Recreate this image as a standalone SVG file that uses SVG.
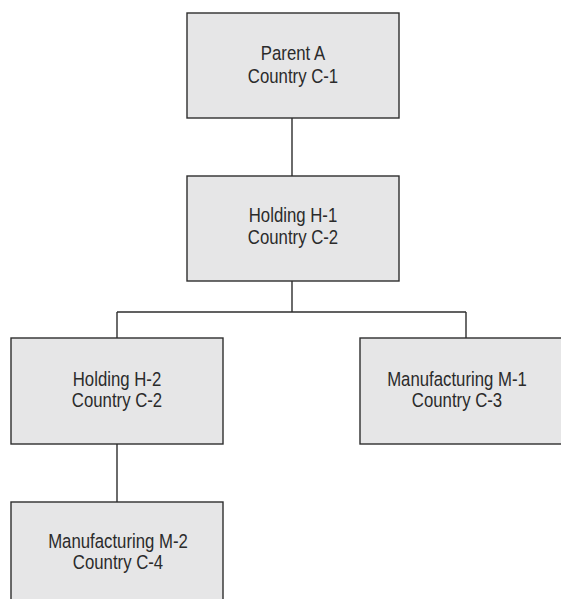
<svg xmlns="http://www.w3.org/2000/svg" width="561" height="599" viewBox="0 0 561 599">
<style>
.box{fill:#e6e6e7;stroke:#2e2e2e;stroke-width:1.4}
.con{fill:none;stroke:#2e2e2e;stroke-width:1.4}
text{font-family:"Liberation Sans",Arial,sans-serif;font-size:19.5px;fill:#2b2b2b;text-anchor:middle}
</style>
<rect width="561" height="599" fill="#ffffff"/>
<g id="connectors">
<path class="con" d="M292 118V176M292 281V312M117 312H466M117 312V338M466 312V338M117 444V502"/>
</g>
<g id="parentA">
<rect class="box" x="187" y="13" width="212" height="105"/>
<text transform="translate(293 59.5) scale(0.86 1)">Parent A</text>
<text transform="translate(293 83) scale(0.86 1)">Country C-1</text>
</g>
<g id="holdingH1">
<rect class="box" x="187" y="176" width="212" height="105"/>
<text transform="translate(293 222) scale(0.86 1)">Holding H-1</text>
<text transform="translate(293 244) scale(0.86 1)">Country C-2</text>
</g>
<g id="holdingH2">
<rect class="box" x="11" y="338" width="212" height="106"/>
<text transform="translate(117 386) scale(0.86 1)">Holding H-2</text>
<text transform="translate(117 407) scale(0.86 1)">Country C-2</text>
</g>
<g id="manufacturingM1">
<rect class="box" x="360" y="338" width="212" height="106"/>
<text transform="translate(457 386) scale(0.86 1)">Manufacturing M-1</text>
<text transform="translate(457 407) scale(0.86 1)">Country C-3</text>
</g>
<g id="manufacturingM2">
<rect class="box" x="11" y="502" width="212" height="106"/>
<text transform="translate(118 548) scale(0.86 1)">Manufacturing M-2</text>
<text transform="translate(118 569) scale(0.86 1)">Country C-4</text>
</g>
</svg>
